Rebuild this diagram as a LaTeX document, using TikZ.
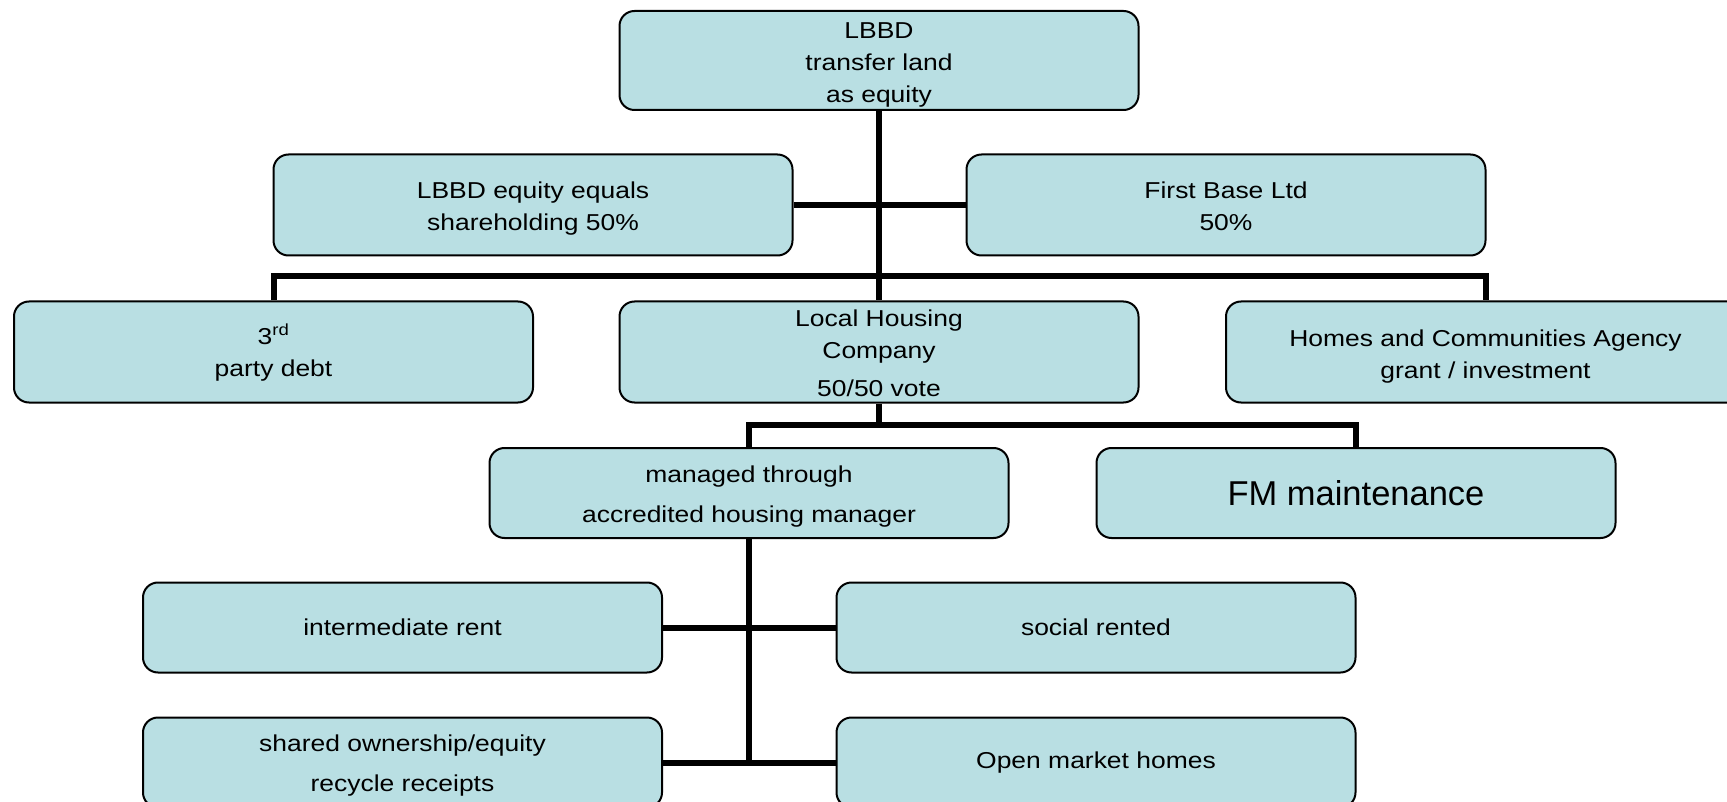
\documentclass[tikz,border=0pt]{standalone}
\usepackage{fontspec}
\setmainfont[FakeStretch=1.15]{Liberation Sans}
\newfontfamily\fmfont{Liberation Sans}
\definecolor{boxfill}{RGB}{185,223,227}
% an invisible strut that makes the first line of a text block taller
\newcommand\topstrut[1]{\rule{0pt}{#1}}
\begin{document}
\begin{tikzpicture}[x=1pt,y=-1pt,
  box/.style={draw=black, line width=2pt, rounded corners=15pt, fill=boxfill,
    minimum width=519pt, minimum height=101pt, inner sep=0pt, align=center,
    font=\fontsize{23}{32}\selectfont},
  lowbox/.style={box, minimum height=90pt},
  link/.style={line width=6pt, black}]
\useasboundingbox (0,0) rectangle (1727,802);
\clip (0,0) rectangle (1727,802);

% ownership level
\node[box, minimum height=99pt] (top) at (879,60.5) {\topstrut{24pt}LBBD\\transfer land\\as equity};
\node[box] (eq) at (533,205) {\topstrut{24pt}LBBD equity equals\\shareholding 50\%};
\node[box] (fb) at (1226,205) {\topstrut{19pt}First Base Ltd\\50\%};

% company level
\node[box] (third) at (273.5,352) {\topstrut{21pt}3\textsuperscript{rd}\\party debt};
\node[box] (lhc) at (879,352) {\topstrut{18.5pt}Local Housing\\Company\\[6pt]50/50 vote};
\node[box] (hca) at (1485.5,352) {\topstrut{25.5pt}Homes and Communities Agency\\grant / investment};

% management level
\node[lowbox] (mgr) at (749,493) {\topstrut{24pt}managed through\\[8pt]accredited housing manager};
\node[lowbox, font=\fmfont\fontsize{34.5}{40}\selectfont] (fm) at (1356,493) {FM maintenance};

% tenures
\node[lowbox] (ir) at (402.5,627.5) {intermediate rent};
\node[lowbox] (sr) at (1096,627.5) {social rented};
\node[lowbox] (so) at (402.5,762.5) {\topstrut{23.5pt}shared ownership/equity\\[8pt]recycle receipts};
\node[lowbox] (om) at (1096,762.5) {Open market homes};

% connectors
\draw[link] (eq.east) -- (fb.west);
\draw[link] (top.south) -- (lhc.north);
\draw[link] (third.north) -- ++(0,-24) -| (hca.north);
\draw[link] (lhc.south) -- ++(0,23);
\draw[link] (mgr.north) -- ++(0,-22) -| (fm.north);
\draw[link] (mgr.south) |- (so.east);
\draw[link] (ir.east) -- (sr.west);
\draw[link] (so.east) -- (om.west);
\end{tikzpicture}
\end{document}
